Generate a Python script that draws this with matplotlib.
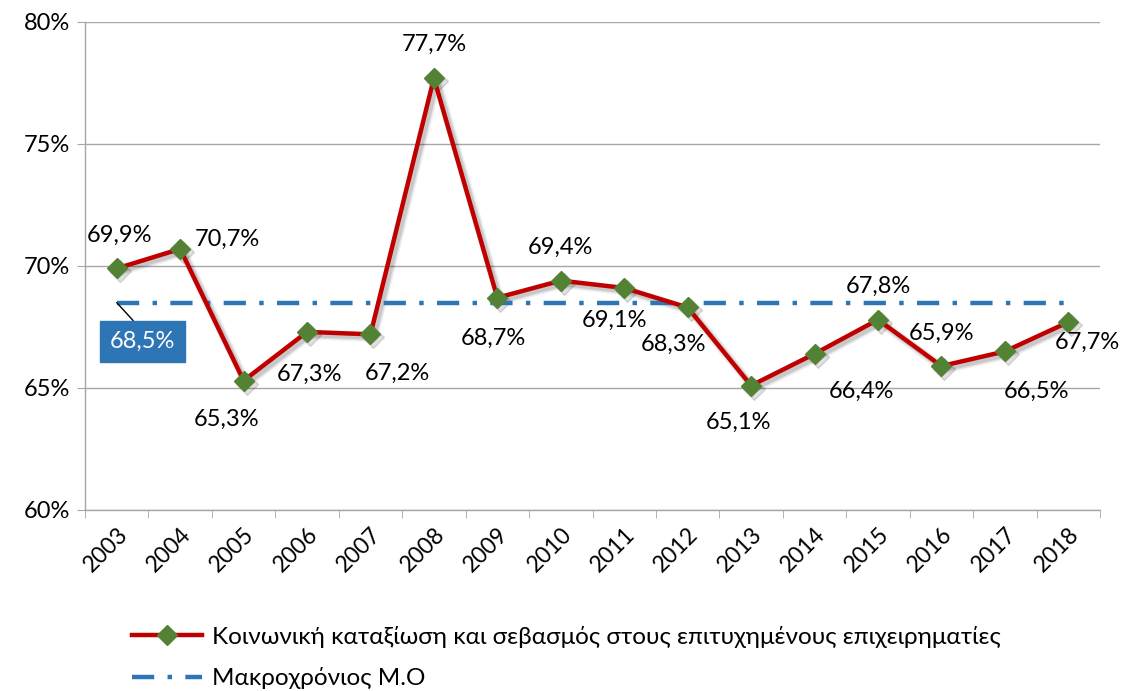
import matplotlib
matplotlib.use("Agg")
import matplotlib.pyplot as plt
import matplotlib.transforms as mtransforms
from matplotlib.ticker import FixedLocator, FuncFormatter
import numpy as np

years = ["2003", "2004", "2005", "2006", "2007", "2008", "2009", "2010",
         "2011", "2012", "2013", "2014", "2015", "2016", "2017", "2018"]
values = [69.9, 70.7, 65.3, 67.3, 67.2, 77.7, 68.7, 69.4,
          69.1, 68.3, 65.1, 66.4, 67.8, 65.9, 66.5, 67.7]
long_term_avg = 68.5
series_label = "Κοινωνική καταξίωση και σεβασμός στους επιτυχημένους επιχειρηματίες"
avg_label = "Μακροχρόνιος Μ.Ο"

# label offsets in pixels (dx, dy)
offsets = [(3, 33), (47, 10), (-17, -39), (2, -42), (27, -39), (0, 34), (-4, -41), (0, 33),
           (-10, -32), (-14, -37), (-13, -37), (47, -38), (0, 33), (0, 33), (32, -40), (19, -20)]

plt.rcParams['font.family'] = ['Lato', 'DejaVu Sans']
fig = plt.figure(figsize=(11.24, 6.91), dpi=100)
ax = fig.add_axes([85/1124, 1-510/691, 1015/1124, 488/691])

x = np.arange(len(years))
red = "#C00000"
green = "#548235"
blue = "#2E75B6"
fs = 17

# soft shadow
shadow_tr = mtransforms.offset_copy(ax.transData, fig=fig, x=3, y=-3, units="dots")
for lw, a in [(7, 0.05), (5, 0.08), (3.5, 0.1)]:
    ax.plot(x, values, color="black", lw=lw, alpha=a, transform=shadow_tr, zorder=2,
            solid_joinstyle="round", solid_capstyle="round")
ax.plot(x, values, ls="none", marker="D", markersize=11, color="black", alpha=0.12,
        transform=shadow_tr, zorder=2)

ax.plot(x, values, color=red, lw=3.2, marker="D", markersize=10,
        markerfacecolor=green, markeredgecolor=green, zorder=4,
        solid_joinstyle="miter", label=series_label)
ax.plot([x[0], x[-1]], [long_term_avg]*2, color=blue, lw=3.2,
        dashes=(5, 3, 1, 3), zorder=3, label=avg_label)

for xi, v, (dx, dy) in zip(x, values, offsets):
    ax.annotate(f"{v:.1f}%".replace(".", ","), (xi, v), xytext=(dx, dy),
                textcoords="offset pixels", ha="center", va="center",
                fontsize=fs, color="black", zorder=5)

# average label box
ax.annotate(f"{long_term_avg:.1f}%".replace(".", ","), (x[0], long_term_avg),
            xytext=(26, -39), textcoords="offset pixels", ha="center", va="center",
            fontsize=fs, color="white",
            bbox=dict(boxstyle="square,pad=0.42", fc=blue, ec=blue),
            arrowprops=dict(arrowstyle="-", color="black", lw=1, shrinkA=0, shrinkB=0,
                            relpos=(0.5, 1.0)),
            zorder=5)

ax.set_xlim(-0.5, len(years) - 0.5)
ax.set_ylim(60, 80)
ax.set_yticks([60, 65, 70, 75, 80])
ax.yaxis.set_major_formatter(FuncFormatter(lambda v, p: f"{v:.0f}%"))
ax.set_xticks(x)
ax.set_xticklabels(years, rotation=45, ha="right", rotation_mode="anchor", fontsize=16.5)
ax.xaxis.set_minor_locator(FixedLocator(np.arange(-0.5, len(years), 1)))
ax.tick_params(axis="x", which="major", length=0, pad=10)
ax.tick_params(axis="x", which="minor", length=6, color="#A6A6A6")
ax.tick_params(axis="y", labelsize=fs, length=6, color="#A6A6A6", pad=5)
ax.grid(axis="y", color="#A6A6A6", lw=1)
ax.set_axisbelow(True)
for s in ["top", "right"]:
    ax.spines[s].set_visible(False)
for s in ["left", "bottom"]:
    ax.spines[s].set_color("#A6A6A6")
    ax.spines[s].set_linewidth(1)

leg = fig.legend(loc="upper left", bbox_to_anchor=(110/1124, 1-604/691), frameon=False,
                 fontsize=17.5, handlelength=2.9, labelspacing=0.8, handletextpad=0.4)

fig.savefig("out.png", dpi=100)
